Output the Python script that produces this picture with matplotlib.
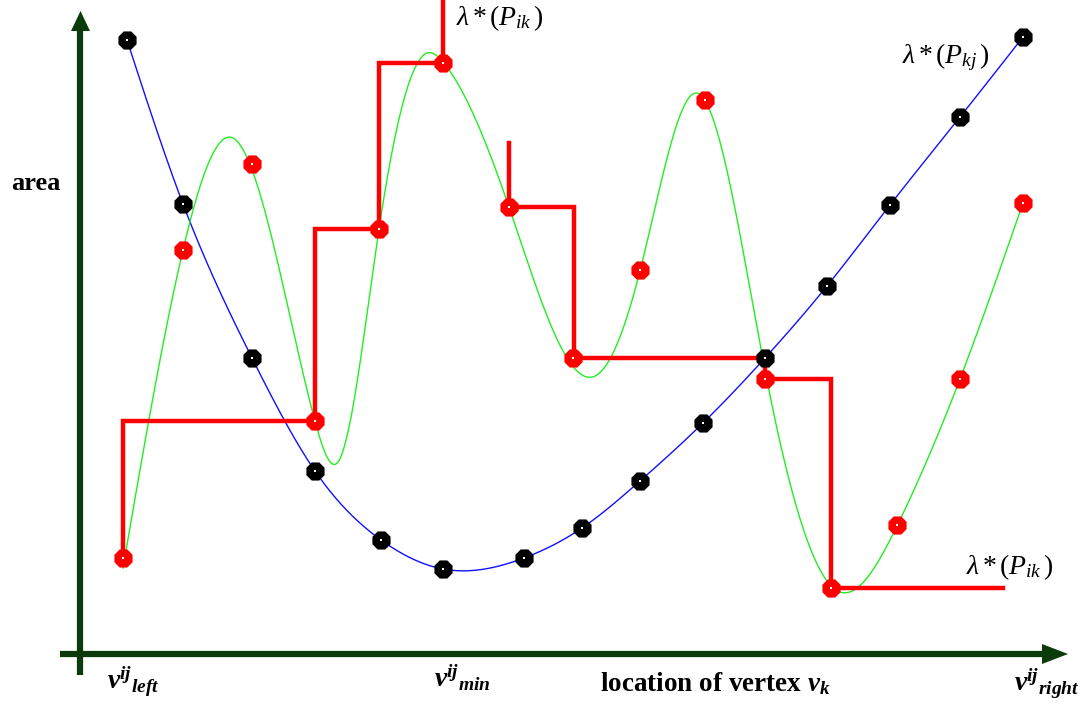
import numpy as np
import matplotlib
matplotlib.use("Agg")
import matplotlib.pyplot as plt

plt.rcParams["mathtext.fontset"] = "custom"
plt.rcParams["mathtext.rm"] = "Liberation Serif"
plt.rcParams["mathtext.it"] = "Liberation Serif:italic"
plt.rcParams["mathtext.bf"] = "Liberation Serif:bold"
plt.rcParams["mathtext.bfit"] = "Liberation Serif:italic:bold"

# Black samples of lambda*(P_kj) (blue curve)
kj_x = [127, 183, 252, 315, 381, 443, 524, 582, 640, 703, 765, 827, 890, 960, 1023]
kj_y = [40, 204, 358, 471, 540, 569, 558, 528, 481, 423, 358, 286, 205, 117, 37]

# Red samples of lambda*(P_ik)
ik_x = [123, 183, 252, 315, 379, 443, 509, 573, 640, 705, 765, 831, 897, 960, 1023]
ik_y = [558, 250, 164, 421, 229, 63, 207, 358, 270, 100, 379, 588, 525, 379, 203]

# Knots of the oscillating green curve
gr_x = [123, 183, 233, 315, 338, 379, 427, 443, 509, 597, 640, 696, 765, 836, 897, 960, 1023]
gr_y = [568, 250, 138, 421, 462, 229, 53, 62, 207, 375, 271, 93, 370, 590, 526, 379, 203]

# Running-minimum staircase (two pieces)
step1_x = [123, 123, 315, 315, 379, 379, 443, 443]
step1_y = [558, 421, 421, 229, 229, 63, 63, 0]
step2_x = [509, 509, 574, 574, 765, 765, 831, 831, 1003]
step2_y = [143, 207, 207, 358, 358, 379, 379, 588, 588]


def natural_spline(x, y, n=800):
    x = np.asarray(x, float)
    y = np.asarray(y, float)
    k = len(x)
    h = np.diff(x)
    A = np.zeros((k, k))
    b = np.zeros(k)
    A[0, 0] = A[-1, -1] = 1
    for i in range(1, k - 1):
        A[i, i - 1] = h[i - 1]
        A[i, i] = 2 * (h[i - 1] + h[i])
        A[i, i + 1] = h[i]
        b[i] = 3 * ((y[i + 1] - y[i]) / h[i] - (y[i] - y[i - 1]) / h[i - 1])
    c = np.linalg.solve(A, b)
    xs = np.linspace(x[0], x[-1], n)
    idx = np.clip(np.searchsorted(x, xs) - 1, 0, k - 2)
    dx = xs - x[idx]
    bb = (y[idx + 1] - y[idx]) / h[idx] - h[idx] * (2 * c[idx] + c[idx + 1]) / 3
    d = (c[idx + 1] - c[idx]) / (3 * h[idx])
    ys = y[idx] + bb * dx + c[idx] * dx ** 2 + d * dx ** 3
    return xs, ys


fig = plt.figure(figsize=(10.89, 7.05), dpi=100)
ax = fig.add_axes([0, 0, 1, 1])
ax.set_xlim(0, 1089)
ax.set_ylim(705, 0)
ax.axis("off")

axis_color = "#0b3a0b"
# vertical axis with arrow head
ax.plot([80, 80], [675, 30], color=axis_color, lw=4.5, solid_capstyle="butt")
ax.fill([71, 90, 80.5], [31, 31, 11], color=axis_color, lw=0)
# horizontal axis with arrow head
ax.plot([60, 1045], [654, 654], color=axis_color, lw=4.5, solid_capstyle="butt")
ax.fill([1042, 1042, 1068], [644, 664, 654], color=axis_color, lw=0)

bx, by = natural_spline(kj_x, kj_y)
ax.plot(bx, by, color="#1010ff", lw=1.0, zorder=2)
gx, gy = natural_spline(gr_x, gr_y)
ax.plot(gx, gy, color="#22ee22", lw=1.0, zorder=2)

ax.plot(step1_x, step1_y, color="#ff0000", lw=3.2, zorder=3, solid_joinstyle="miter")
ax.plot(step2_x, step2_y, color="#ff0000", lw=3.2, zorder=3, solid_joinstyle="miter")

ax.scatter(kj_x, kj_y, s=200, marker="8", color="black", zorder=4, lw=0)
ax.scatter(ik_x, ik_y, s=200, marker="8", color="#ff0000", zorder=4, lw=0)
ax.scatter(kj_x + ik_x, kj_y + ik_y, s=1.5, marker="s", color="white", zorder=5, lw=0)

lam = dict(fontsize=20, color="black", family="Liberation Serif")
ax.text(456, 18, r"$\lambda\,{*}\,(P_{ik}\,)$", ha="left", va="center", **lam)
ax.text(902, 57, r"$\lambda\,{*}\,(P_{kj}\,)$", ha="left", va="center", **lam)
ax.text(966, 567, r"$\lambda\,{*}\,(P_{ik}\,)$", ha="left", va="center", **lam)

ax.text(11, 183, "area", fontsize=19, fontweight="bold", family="Liberation Serif",
        ha="left", va="center")
ax.text(600, 684, r"location of vertex $\mathbfit{v}_{\mathbfit{k}}$", fontsize=19.5,
        fontweight="bold", family="Liberation Serif", ha="left", va="center")

vlab = dict(fontsize=20, family="Liberation Serif", ha="left", va="center")
ax.text(107, 682, r"$\mathbfit{v}^{\mathbfit{ij}}{}_{\mathbfit{left}}$", **vlab)
ax.text(434, 678, r"$\mathbfit{v}^{\mathbfit{ij}}{}_{\mathbfit{min}}$", **vlab)
ax.text(1014, 684, r"$\mathbfit{v}^{\mathbfit{ij}}{}_{\mathbfit{right}}$", **vlab)

fig.savefig("out.png", dpi=100)
